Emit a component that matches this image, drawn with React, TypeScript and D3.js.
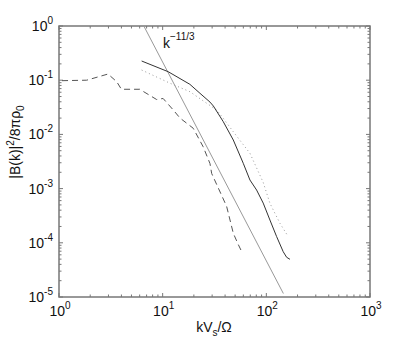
import React, { useEffect, useRef } from "react";
import * as d3 from "d3";

const solidK = [6.27, 11.3, 18.3, 22.9, 28.6, 30.8, 38.4, 48, 59.9, 69.5, 80.6, 93.3, 108.3, 125.7, 145.5, 157, 169];
const solidB = [0.226, 0.1435, 0.084, 0.0573, 0.0395, 0.0335, 0.0172, 0.00788, 0.00293, 0.00144, 9.4e-4, 5.4e-4, 2.63e-4, 1.3e-4, 6.85e-5, 5.4e-5, 4.96e-5];

const dottedK = [6.27, 11.8, 18.3, 26.6, 33.2, 38.4, 48, 69.5, 93.3, 108.3, 135.3, 162.6];
const dottedB = [0.154, 0.0877, 0.0614, 0.0375, 0.0282, 0.0198, 0.0112, 0.00448, 0.0013, 5.36e-4, 2.29e-4, 1.3e-4];

const dashedK = [1.07, 1.85, 2.97, 3.6, 4.0, 6.0, 8.75, 10.1, 12.7, 14.7, 19.7, 24.6, 28.6, 29.7, 41.4, 48, 53.6, 57.8];
const dashedB = [0.098, 0.1, 0.13, 0.094, 0.068, 0.068, 0.044, 0.046, 0.028, 0.02, 0.013, 0.0059, 0.0029, 0.0019, 4.7e-4, 1.5e-4, 9.3e-5, 6.9e-5];

const slopeK = [6.58, 146];
const slopeAmp = 1000; // B = amp * k^(-11/3)

const xTickExps = [0, 1, 2, 3];
const yTickExps = [0, -1, -2, -3, -4, -5];

const App = () => {
  const svgRef = useRef<SVGSVGElement>(null);

  useEffect(() => {
    const svg = d3.select(svgRef.current);
    svg.selectAll("*").remove();

    const left = 59, right = 370, top = 26, bottom = 297;
    const font = "'Liberation Sans', Arial, sans-serif";

    const x = d3.scaleLog().domain([1, 1000]).range([left, right]);
    const y = d3.scaleLog().domain([1e-5, 1]).range([bottom, top]);

    const g = svg.append("g");
    const frameColor = "#777";

    // minor + major ticks, inward on all four sides
    const xMinor: number[] = [];
    for (let e = 0; e < 3; e++) for (let m = 2; m <= 9; m++) xMinor.push(m * Math.pow(10, e));
    const yMinor: number[] = [];
    for (let e = -5; e < 0; e++) for (let m = 2; m <= 9; m++) yMinor.push(m * Math.pow(10, e));

    const tickLines = (vals: number[], len: number) => {
      vals.forEach((v) => {
        const px = x(v);
        g.append("line").attr("x1", px).attr("x2", px).attr("y1", bottom).attr("y2", bottom - len)
          .attr("stroke", frameColor).attr("stroke-width", 1);
        g.append("line").attr("x1", px).attr("x2", px).attr("y1", top).attr("y2", top + len)
          .attr("stroke", frameColor).attr("stroke-width", 1);
      });
    };
    const tickLinesY = (vals: number[], len: number) => {
      vals.forEach((v) => {
        const py = y(v);
        g.append("line").attr("x1", left).attr("x2", left + len).attr("y1", py).attr("y2", py)
          .attr("stroke", frameColor).attr("stroke-width", 1);
        g.append("line").attr("x1", right).attr("x2", right - len).attr("y1", py).attr("y2", py)
          .attr("stroke", frameColor).attr("stroke-width", 1);
      });
    };
    tickLines(xMinor, 2.5);
    tickLines(xTickExps.map((e) => Math.pow(10, e)), 4);
    tickLinesY(yMinor, 2.5);
    tickLinesY(yTickExps.map((e) => Math.pow(10, e)), 4);

    // frame
    g.append("rect")
      .attr("x", left).attr("y", top)
      .attr("width", right - left).attr("height", bottom - top)
      .attr("fill", "none").attr("stroke", frameColor).attr("stroke-width", 1.5);

    // tick labels
    xTickExps.forEach((e) => {
      const t = g.append("text")
        .attr("x", x(Math.pow(10, e)) + 1)
        .attr("y", 316)
        .attr("text-anchor", "middle")
        .attr("font-family", font)
        .attr("font-size", 14)
        .attr("fill", "#111");
      t.append("tspan").text("10");
      t.append("tspan").attr("dy", -7).attr("font-size", 10).text(String(e));
    });
    yTickExps.forEach((e) => {
      const t = g.append("text")
        .attr("x", 53)
        .attr("y", y(Math.pow(10, e)) + 5)
        .attr("text-anchor", "end")
        .attr("font-family", font)
        .attr("font-size", 14)
        .attr("fill", "#111");
      t.append("tspan").text("10");
      t.append("tspan").attr("dy", -7).attr("font-size", 10).text(String(e));
    });

    // axis labels
    const xl = g.append("text")
      .attr("x", 214).attr("y", 332)
      .attr("text-anchor", "middle")
      .attr("font-family", font).attr("font-size", 14).attr("fill", "#111");
    xl.append("tspan").text("kV");
    xl.append("tspan").attr("dy", 4).attr("font-size", 10).text("s");
    xl.append("tspan").attr("dy", -4).text("/Ω");

    const yl = g.append("text")
      .attr("transform", "translate(20,142) rotate(-90)")
      .attr("text-anchor", "middle")
      .attr("font-family", font).attr("font-size", 14).attr("fill", "#111");
    yl.append("tspan").text("|B(k)|");
    yl.append("tspan").attr("dy", -6).attr("font-size", 10).text("2");
    yl.append("tspan").attr("dy", 6).text("/8πρ");
    yl.append("tspan").attr("dy", 4).attr("font-size", 10).text("0");

    const line = d3.line<[number, number]>().x((d) => x(d[0])).y((d) => y(d[1]));

    // reference slope k^-11/3
    const slopePts: [number, number][] = slopeK.map((k) => [k, slopeAmp * Math.pow(k, -11 / 3)]);
    g.append("path").attr("d", line(slopePts))
      .attr("fill", "none").attr("stroke", "#999").attr("stroke-width", 1);

    const kl = g.append("text")
      .attr("x", 163).attr("y", 48)
      .attr("font-family", font).attr("font-size", 14).attr("fill", "#111");
    kl.append("tspan").text("k");
    kl.append("tspan").attr("dy", -8).attr("font-size", 10).text("−11/3");

    g.append("path").attr("d", line(dashedK.map((k, i) => [k, dashedB[i]])))
      .attr("fill", "none").attr("stroke", "#555").attr("stroke-width", 1)
      .attr("stroke-dasharray", "6,4");

    g.append("path").attr("d", line(dottedK.map((k, i) => [k, dottedB[i]])))
      .attr("fill", "none").attr("stroke", "#999").attr("stroke-width", 1)
      .attr("stroke-dasharray", "1,3");

    g.append("path").attr("d", line(solidK.map((k, i) => [k, solidB[i]])))
      .attr("fill", "none").attr("stroke", "#333").attr("stroke-width", 1);
  }, []);

  return (
    <svg ref={svgRef} width={408} height={346}
      style={{ position: "absolute", left: 0, top: 0, background: "#fff" }} />
  );
};

export default App;
